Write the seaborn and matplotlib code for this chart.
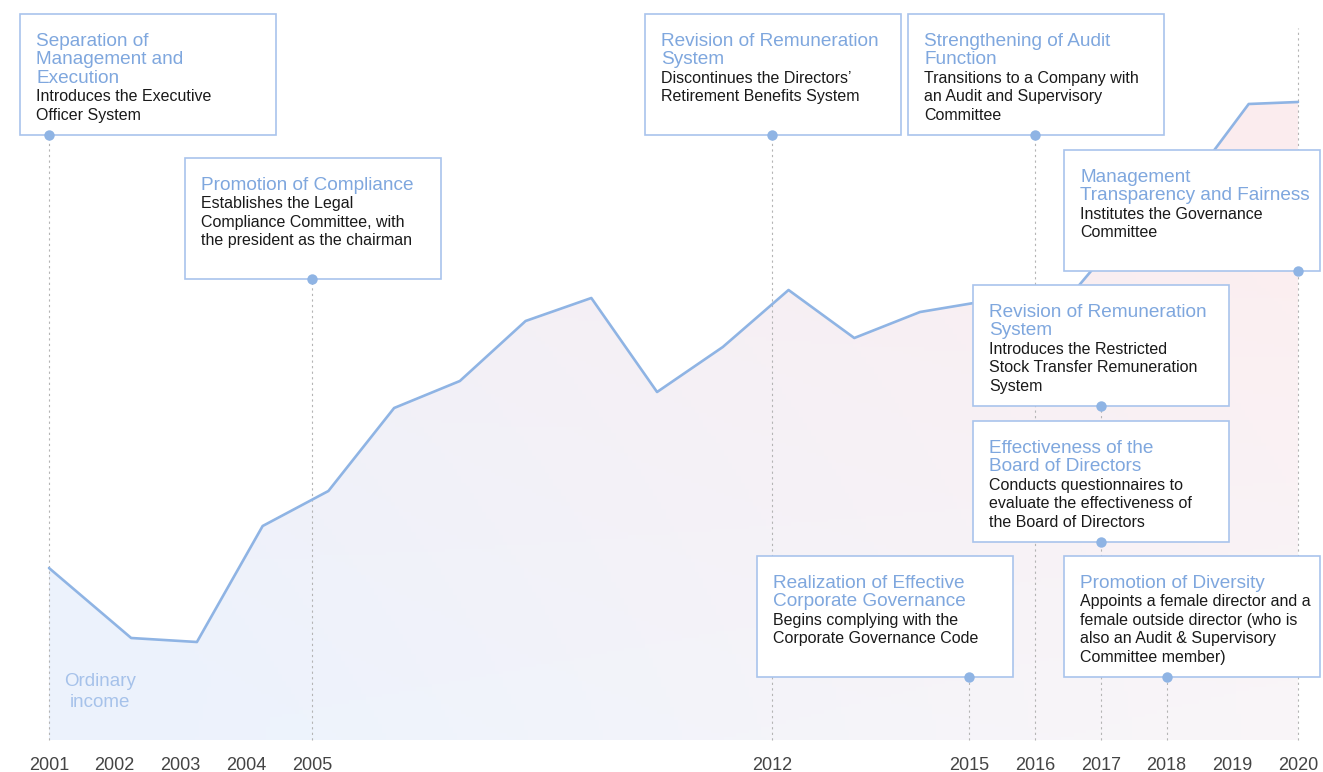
import numpy as np
import seaborn as sns
import matplotlib.pyplot as plt
from matplotlib.patches import Rectangle

# ordinary income, relative index (no axis scale shown)
income_year = [2001, 2002.25, 2003.25, 2004.25, 2005.25, 2006.25, 2007.25, 2008.25,
               2009.25, 2010.25, 2011.25, 2012.25, 2013.25, 2014.25, 2015.25, 2016.25,
               2017.25, 2018.25, 2019.25, 2020]
income_value = [172, 102, 98, 214, 249, 332, 359, 419, 442, 348, 393, 450, 402, 428,
                439, 422, 500, 548, 636, 638]

tick_years = [2001, 2002, 2003, 2004, 2005, 2012, 2015, 2016, 2017, 2018, 2019, 2020]

event_years = [2001, 2005, 2012, 2016, 2020, 2017, 2017, 2015, 2018]
event_titles = [
    ["Separation of", "Management and", "Execution"],
    ["Promotion of Compliance"],
    ["Revision of Remuneration", "System"],
    ["Strengthening of Audit", "Function"],
    ["Management", "Transparency and Fairness"],
    ["Revision of Remuneration", "System"],
    ["Effectiveness of the", "Board of Directors"],
    ["Realization of Effective", "Corporate Governance"],
    ["Promotion of Diversity"],
]
event_texts = [
    ["Introduces the Executive", "Officer System"],
    ["Establishes the Legal", "Compliance Committee, with", "the president as the chairman"],
    ["Discontinues the Directors\u2019", "Retirement Benefits System"],
    ["Transitions to a Company with", "an Audit and Supervisory", "Committee"],
    ["Institutes the Governance", "Committee"],
    ["Introduces the Restricted", "Stock Transfer Remuneration", "System"],
    ["Conducts questionnaires to", "evaluate the effectiveness of", "the Board of Directors"],
    ["Begins complying with the", "Corporate Governance Code"],
    ["Appoints a female director and a", "female outside director (who is",
     "also an Audit & Supervisory", "Committee member)"],
]

# layout (pixels of the 1323x772 canvas)
box_left = [20, 185, 645, 908, 1064, 973, 973, 757, 1064]
box_top = [14, 158, 14, 14, 150, 285, 421, 556, 556]
BOX_W, BOX_H = 256, 121
guide_years = [2001, 2005, 2012, 2015, 2016, 2017, 2018, 2020]
guide_top = [135, 279, 135, 677, 135, 407, 677, 28]

X0, DX, BASE = 49, 65.737, 740


def xd(px):
    return 2001 + (px - X0) / DX


def yd(py):
    return BASE - py


LINE = "#8fb4e4"
TITLE = "#7fa7de"
EDGE = "#a9c4ec"

sns.set_style("white")
plt.rcParams["font.family"] = ["Liberation Sans", "DejaVu Sans"]

fig = plt.figure(figsize=(13.23, 7.72), dpi=100)
ax = fig.add_axes([0, 0, 1, 1])
ax.set_xlim(xd(0), xd(1323))
ax.set_ylim(yd(772), yd(0))
ax.axis("off")

# gradient area under the line
poly = ax.fill_between(income_year, 0, income_value, color="none", lw=0)
xs = np.linspace(0, 1, 300)
ys = np.linspace(0, 1, 200)
gx, gy = np.meshgrid(xs, ys)
t = np.clip(0.75 * gx + 0.55 * gy - 0.15, 0, 1)[..., None]
blue = np.array([236, 242, 252]) / 255
pink = np.array([251, 236, 238]) / 255
img = blue * (1 - t) + pink * t
white_mix = (0.45 * gx * (1 - gy))[..., None]
img = img * (1 - white_mix) + white_mix
im = ax.imshow(img, origin="lower", aspect="auto", zorder=1,
               extent=(2001, 2020, 0, 660))
im.set_clip_path(poly.get_paths()[0], transform=ax.transData)

# dotted guides
for yr, top in zip(guide_years, guide_top):
    ax.plot([yr, yr], [0, yd(top)], color="#b4b4b4", lw=0.8,
            ls=(0, (2, 3)), zorder=2)

sns.lineplot(x=income_year, y=income_value, ax=ax, color=LINE, lw=1.9,
             zorder=3, sort=False)

for i in range(len(event_years)):
    left, top = box_left[i], box_top[i]
    ax.add_patch(Rectangle((xd(left), yd(top + BOX_H)), BOX_W / DX, BOX_H,
                           facecolor="white", edgecolor=EDGE, lw=1.2, zorder=4))
    ax.plot(event_years[i], yd(top + BOX_H), "o", color=LINE, ms=7.5,
            mec="none", zorder=5)
    lines = [(s, TITLE, 13.7) for s in event_titles[i]] + \
            [(s, "#1a1a1a", 11.5) for s in event_texts[i]]
    for j, (s, c, fs) in enumerate(lines):
        ax.text(xd(left + 16), yd(top + 32 + 18.4 * j), s, color=c, fontsize=fs,
                va="baseline", ha="left", zorder=6)

ax.text(xd(100), yd(686), "Ordinary", color="#a6c2ea", fontsize=13.5,
        ha="center", va="baseline", zorder=6)
ax.text(xd(100), yd(707), "income", color="#a6c2ea", fontsize=13.5,
        ha="center", va="baseline", zorder=6)

for yr in tick_years:
    ax.text(yr, yd(770), str(yr), color="#444444", fontsize=13,
            ha="center", va="baseline")

fig.savefig("out.png", dpi=100)
